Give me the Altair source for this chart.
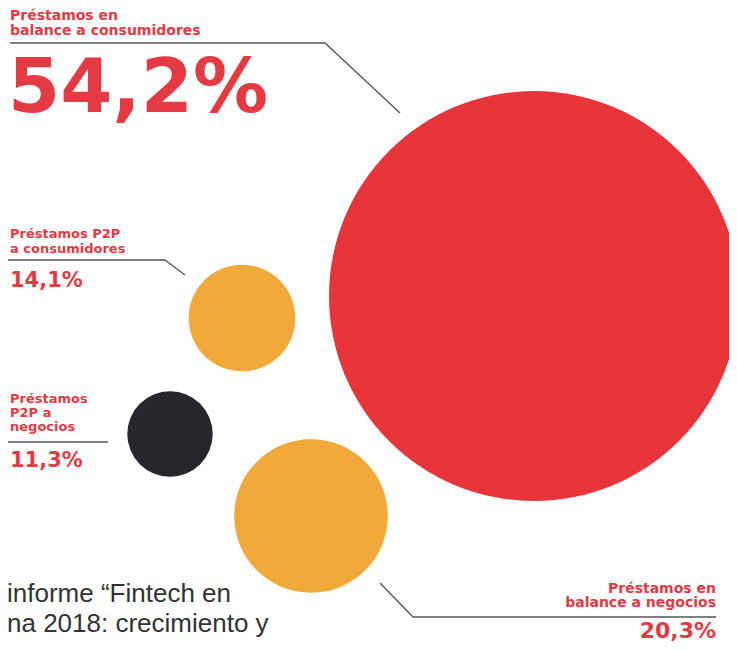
import altair as alt
import pandas as pd

# ---- data ----
categories = [
    "Préstamos en balance a consumidores",
    "Préstamos P2P a consumidores",
    "Préstamos P2P a negocios",
    "Préstamos en balance a negocios",
]
values = [54.2, 14.1, 11.3, 20.3]
value_labels = ["54,2%", "14,1%", "11,3%", "20,3%"]
label_lines = [
    ["Préstamos en", "balance a consumidores"],
    ["Préstamos P2P", "a consumidores"],
    ["Préstamos", "P2P a", "negocios"],
    ["Préstamos en", "balance a negocios"],
]
source_lines = ["informe “Fintech en", "na 2018: crecimiento y", "n”, BID y Finnovista"]

# ---- layout (pixel space of the drawing) ----
W, H = 721, 634
center_x = [526, 234, 162, 303]
center_y = [288, 310, 426, 508]
circle_colors = ["#E8353B", "#F2A93B", "#27272B", "#F2A93B"]
text_red = "#E33A44"

label_anchor = [(2, 12, 15, "left", 14), (2, 230, 15, "left", 13),
                (2, 395, 14, "left", 13), (708, 585, 14, "right", 14)]
value_anchor = [(0, 104, "left", 75), (2, 279, "left", 21),
                (2, 459, "left", 21), (708, 630, "right", 22)]
leader_paths = [
    [(2, 35), (317, 35), (392, 105)],
    [(0, 252), (157, 252), (177, 267)],
    [(0, 434), (100, 434)],
    [(372, 575), (405, 609), (708, 609)],
]

circles = pd.DataFrame({"cat": categories, "value": values, "x": center_x, "y": center_y})

lab_rows = []
for i, lines in enumerate(label_lines):
    x0, y0, lh, al, fs = label_anchor[i]
    for j, t in enumerate(lines):
        lab_rows.append({"x": x0, "y": y0 + j * lh, "text": t, "al": al, "fs": fs})
labels = pd.DataFrame(lab_rows)

val_rows = []
for i, t in enumerate(value_labels):
    x0, y0, al, fs = value_anchor[i]
    val_rows.append({"x": x0, "y": y0, "text": t, "al": al, "fs": fs})
vals = pd.DataFrame(val_rows)

line_rows = []
for i, pts in enumerate(leader_paths):
    for k, (px, py) in enumerate(pts):
        line_rows.append({"g": i, "k": k, "x": px, "y": py})
leaders = pd.DataFrame(line_rows)

src = pd.DataFrame({"text": source_lines, "x": [-1, -1, -1], "y": [594, 624, 654]})

xs = alt.Scale(domain=[0, W], range=[0, W], nice=False, zero=False)
ys = alt.Scale(domain=[0, H], range=[0, H], nice=False, zero=False)
X = lambda: alt.X("x:Q", scale=xs, axis=None)
Y = lambda: alt.Y("y:Q", scale=ys, axis=None)

circle_layer = alt.Chart(circles).mark_circle(opacity=1).encode(
    x=X(), y=Y(),
    size=alt.Size("value:Q", scale=alt.Scale(type="pow", exponent=2, domain=[0, 54.2],
                                             range=[0, 410 ** 2]), legend=None),
    color=alt.Color("cat:N", scale=alt.Scale(domain=categories, range=circle_colors), legend=None),
)

line_layer = alt.Chart(leaders).mark_line(color="#555555", strokeWidth=1.3).encode(
    x=X(), y=Y(), detail="g:N", order="k:Q"
)

def text_layer(df, align, font, weight, color):
    return alt.Chart(df).mark_text(align=align, baseline="alphabetic", font=font,
                                   fontWeight=weight, color=color).encode(
        x=X(), y=Y(), text="text:N", size=alt.Size("fs:Q", scale=None, legend=None)
    )

lab_left = text_layer(labels[labels["al"] == "left"], "left", "DejaVu Sans", "bold", text_red)
lab_right = text_layer(labels[labels["al"] == "right"], "right", "DejaVu Sans", "bold", text_red)
val_left = text_layer(vals[vals["al"] == "left"], "left", "DejaVu Sans", "bold", text_red)
val_right = text_layer(vals[vals["al"] == "right"], "right", "DejaVu Sans", "bold", text_red)
src_layer = alt.Chart(src).mark_text(align="left", baseline="alphabetic", font="Liberation Sans",
                                     fontSize=26, color="#333333").encode(
    x=X(), y=Y(), text="text:N")

chart = alt.layer(circle_layer, line_layer, lab_left, lab_right, val_left, val_right, src_layer).properties(
    width=W, height=H, padding=0, autosize=alt.AutoSizeParams(type="none"),
    background="white",
).configure_view(stroke=None)

chart.save("out.html", embed_options={"renderer": "svg", "actions": False})
